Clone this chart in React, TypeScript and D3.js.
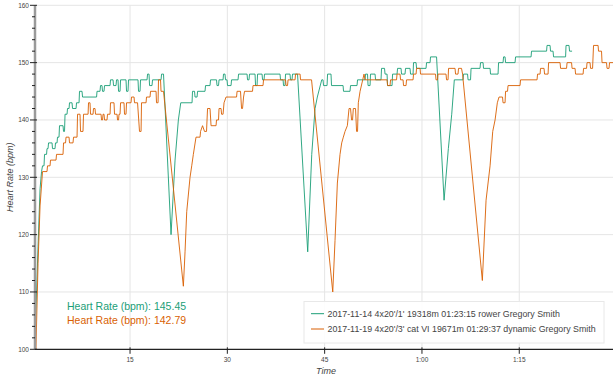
import React from "react";
import * as d3 from "d3";

const W = 613;
const H = 380;

const xTickValues = [15, 30, 45, 60, 75];
const xTickLabels = ["15", "30", "45", "1:00", "1:15"];
const yTickValues = [100, 110, 120, 130, 140, 150, 160];
const yMinorValues = d3.range(100, 161, 2).filter((v) => v % 10 !== 0);

const seriesColors = ["#1b9e77", "#d95f02"];
const legendLabels = [
  "2017-11-14 4x20'/1' 19318m 01:23:15 rower Gregory Smith",
  "2017-11-19 4x20'/3' cat VI 19671m 01:29:37 dynamic Gregory Smith",
];
const summaryLabels = ["Heart Rate (bpm): 145.45", "Heart Rate (bpm): 142.79"];

// [minutes, bpm]
const rowerHR: [number, number][] = [
  [0.39, 103], [0.82, 118], [1.13, 128], [1.36, 131], [1.51, 132], [1.74, 132], [1.82, 134], [2.13, 134],
  [2.2, 135], [2.36, 135], [2.44, 136], [2.98, 136], [3.05, 135], [3.44, 135], [3.51, 136], [3.75, 136],
  [3.82, 137], [4.05, 137], [4.13, 139], [4.67, 139], [4.75, 138], [4.9, 138], [4.98, 141], [5.29, 141],
  [5.36, 142], [5.6, 142], [5.67, 143], [6.06, 143], [6.14, 142], [6.68, 142], [6.75, 143], [7.14, 143],
  [7.21, 145], [7.6, 145], [7.68, 144], [9.84, 144], [9.91, 145], [10.37, 145], [10.45, 146], [10.68, 146],
  [10.76, 145], [10.99, 145], [11.07, 146], [11.92, 146], [11.99, 147], [12.38, 147], [12.46, 146], [12.84, 146],
  [12.92, 147], [13.15, 147], [13.23, 145], [13.46, 145], [13.54, 147], [14.38, 147], [14.46, 145], [14.69, 145],
  [14.77, 147], [16.23, 147], [16.31, 145], [16.54, 145], [16.62, 147], [17.62, 147], [17.7, 148], [17.93, 148],
  [18.01, 146], [18.39, 146], [18.47, 147], [19.78, 147], [19.86, 148], [20.16, 148],
  [21.32, 120], [21.94, 133], [22.45, 140], [22.82, 143], [24.56, 143], [24.63, 145], [24.94, 145], [25.02, 144],
  [25.33, 144], [25.41, 145], [26.56, 145], [26.64, 146], [27.33, 146], [27.41, 147], [28.33, 147], [28.41, 146],
  [28.64, 146], [28.72, 147], [29.34, 147], [29.41, 148], [29.64, 148], [29.72, 147], [29.95, 147], [30.03, 146],
  [30.57, 146], [30.65, 147], [31.65, 147], [31.73, 148], [33.04, 148], [33.11, 147], [33.34, 147], [33.42, 148],
  [34.27, 148], [34.35, 146], [34.58, 146], [34.66, 148], [35.35, 148], [35.43, 147], [35.66, 147], [35.73, 148],
  [38.12, 148], [38.2, 147], [38.59, 147], [38.66, 146], [38.89, 146], [38.97, 148], [39.66, 148], [39.74, 147],
  [39.97, 147], [40.05, 148], [40.82, 148],
  [42.39, 117], [43.01, 134], [43.52, 142], [43.87, 144], [44.55, 147], [44.75, 147], [44.83, 146], [45.37, 146],
  [45.45, 148], [45.98, 148], [46.06, 146], [47.84, 146], [47.91, 145], [48.91, 145], [48.99, 146], [49.99, 146],
  [50.07, 147], [51.23, 147], [51.3, 148], [51.61, 148], [51.69, 146], [52.0, 146], [52.07, 148], [52.77, 148],
  [52.85, 147], [53.69, 147], [53.77, 149], [54.23, 149], [54.31, 148], [54.62, 148], [54.7, 146], [55.39, 146],
  [55.47, 148], [56.16, 148], [56.24, 149], [56.78, 149], [56.85, 148], [57.39, 148], [57.47, 149], [58.16, 149],
  [58.24, 148], [58.63, 148], [58.7, 150], [59.09, 150], [59.17, 149], [60.63, 149], [60.71, 150], [61.25, 150],
  [61.32, 151], [62.25, 151],
  [63.41, 126], [64.07, 135], [64.59, 141], [64.99, 147], [66.33, 147], [66.41, 148], [67.03, 148], [67.11, 147],
  [67.49, 147], [67.57, 149], [68.95, 149], [69.03, 150], [69.42, 150], [69.49, 149], [70.5, 149], [70.57, 148],
  [71.73, 148], [71.81, 150], [72.5, 150], [72.58, 151], [72.81, 151], [72.89, 150], [74.35, 150], [74.43, 151],
  [76.82, 151], [76.89, 152], [79.21, 152], [79.28, 153], [79.75, 153], [79.82, 152], [80.21, 152], [80.29, 151],
  [82.14, 151], [82.21, 153], [82.67, 153], [82.75, 152], [83.14, 152],
];

const dynamicHR: [number, number][] = [
  [0.43, 97], [0.82, 115], [1.13, 125], [1.51, 131], [2.2, 131], [2.28, 132], [2.67, 132], [2.74, 133],
  [3.59, 133], [3.67, 134], [4.67, 134], [4.75, 136], [5.06, 136], [5.13, 137], [5.6, 137], [5.67, 136],
  [6.21, 136], [6.29, 137], [6.83, 137], [6.91, 141], [7.29, 141], [7.37, 138], [7.75, 138], [7.83, 141],
  [8.53, 141], [8.6, 143], [8.83, 143], [8.91, 141], [9.3, 141], [9.37, 142], [9.6, 142], [9.68, 141],
  [10.53, 141], [10.61, 140], [10.76, 140], [10.84, 141], [10.99, 141], [11.07, 140], [11.45, 140], [11.53, 141],
  [11.92, 141], [11.99, 143], [12.53, 143], [12.61, 141], [13.0, 141], [13.07, 140], [13.23, 140], [13.3, 141],
  [13.46, 141], [13.54, 143], [14.07, 143], [14.15, 141], [14.38, 141], [14.46, 143], [15.15, 143], [15.23, 144],
  [15.62, 144], [15.69, 143], [16.16, 143], [16.46, 138], [16.7, 138], [16.77, 143], [17.47, 143], [17.54, 144],
  [18.08, 144], [18.16, 145], [19.01, 145], [19.08, 143], [19.32, 143], [19.39, 147], [19.7, 147], [19.78, 145],
  [20.16, 145],
  [23.22, 111], [23.48, 117], [23.74, 124], [24.25, 130], [24.51, 132], [24.76, 134], [25.17, 137], [25.79, 137],
  [25.87, 138], [26.18, 139], [26.48, 138], [26.79, 138], [26.95, 142], [27.33, 142], [27.49, 139], [28.26, 139],
  [28.33, 140], [28.64, 140], [28.72, 142], [29.03, 142], [29.11, 141], [29.34, 141], [29.49, 143], [29.8, 144],
  [31.42, 144], [31.5, 145], [32.03, 145], [32.19, 142], [32.34, 142], [32.5, 144], [32.65, 145], [33.88, 145],
  [33.96, 146], [35.5, 146], [35.58, 147], [38.97, 147], [39.05, 146], [39.28, 146], [39.36, 147], [40.44, 147],
  [40.51, 148], [41.21, 148], [41.28, 147], [42.98, 147],
  [46.25, 110], [46.6, 119], [46.96, 129], [47.37, 134], [47.63, 136], [47.88, 137], [48.14, 138], [48.5, 139],
  [48.76, 142], [48.99, 142], [49.15, 140], [49.3, 140], [49.42, 142], [49.76, 142], [49.92, 138], [50.07, 138],
  [50.19, 143], [50.46, 145], [50.87, 147], [51.07, 148], [51.23, 147], [54.62, 147], [54.7, 146], [55.08, 146],
  [55.16, 147], [56.08, 147], [56.16, 148], [56.62, 148], [56.7, 147], [57.09, 147], [57.16, 146], [57.55, 146],
  [57.62, 147], [58.63, 147], [58.7, 148], [59.09, 148], [59.17, 149], [59.71, 149], [59.78, 148], [62.09, 148],
  [62.17, 147], [62.4, 147], [62.48, 148], [63.71, 148], [63.79, 147], [64.02, 147], [64.1, 149], [65.1, 149],
  [65.18, 148], [65.56, 148], [65.64, 149], [66.1, 149], [66.26, 148],
  [69.31, 112], [69.88, 126], [70.5, 132], [70.91, 138], [71.27, 140], [71.62, 143], [71.88, 144], [72.42, 144],
  [72.5, 143], [72.81, 143], [72.89, 145], [73.19, 145], [73.27, 146], [75.12, 146], [75.2, 147], [77.74, 147],
  [77.82, 148], [78.21, 148], [78.28, 149], [78.82, 149], [78.9, 148], [79.44, 148], [79.52, 150], [81.29, 150],
  [81.37, 149], [82.29, 149], [82.37, 150], [83.06, 150], [83.14, 149], [83.6, 149], [83.68, 148], [84.84, 148],
  [84.91, 149], [85.37, 149], [85.45, 150], [85.91, 150], [85.99, 149], [86.3, 149], [86.45, 153], [87.15, 153],
  [87.22, 152], [87.68, 152], [87.76, 150], [88.45, 150], [88.53, 149], [88.84, 149], [88.92, 150], [89.62, 150],
];

const allSeries = [rowerHR, dynamicHR];

export default function App() {
  const left = 35;
  const right = 613;
  const top = 5.3;
  const bottom = 349.3;
  const x = d3.scaleLinear().domain([0.35, 89.45]).range([left, right]);
  const y = d3.scaleLinear().domain([100, 160]).range([bottom, top]);
  const line = d3
    .line<[number, number]>()
    .x((d) => x(d[0]))
    .y((d) => y(d[1]));

  const tickFont = "Helvetica, 'Liberation Sans', Arial, sans-serif";

  return (
    <svg
      width={W}
      height={H}
      style={{ position: "absolute", left: 0, top: 0, background: "#fff" }}
      fontFamily={tickFont}
    >
      <defs>
        <clipPath id="plotclip">
          <rect x={left} y={0} width={right - left} height={bottom} />
        </clipPath>
      </defs>
      {/* grid */}
      {yTickValues.slice(1).map((v) => (
        <line key={"gy" + v} x1={left} x2={right} y1={y(v)} y2={y(v)} stroke="#e5e5e5" strokeWidth={1} />
      ))}
      {xTickValues.map((v) => (
        <line key={"gx" + v} x1={x(v)} x2={x(v)} y1={top} y2={bottom} stroke="#e5e5e5" strokeWidth={1} />
      ))}
      {/* series */}
      <g clipPath="url(#plotclip)">
        {allSeries.map((s, i) => (
          <path
            key={"s" + i}
            d={line(s) || ""}
            fill="none"
            stroke={seriesColors[i]}
            strokeWidth={1}
            strokeOpacity={0.9}
            strokeLinejoin="round"
          />
        ))}
      </g>
      {/* y axis */}
      <line x1={left} x2={left} y1={top} y2={bottom} stroke="#9a9a9a" strokeWidth={2.5} />
      {yTickValues.map((v) => (
        <g key={"ty" + v}>
          <line x1={left - 5} x2={left + 2} y1={y(v)} y2={y(v)} stroke="#222" strokeWidth={1} />
          <text x={left - 6} y={y(v)} dy="0.34em" textAnchor="end" fontSize={6.5} fill="#444">
            {v}
          </text>
        </g>
      ))}
      {yMinorValues.map((v) => (
        <line key={"my" + v} x1={left - 3} x2={left} y1={y(v)} y2={y(v)} stroke="#222" strokeWidth={1} />
      ))}
      <text
        transform={`translate(10, ${(top + bottom) / 2}) rotate(-90)`}
        textAnchor="middle"
        dy="0.34em"
        fontSize={9}
        fontStyle="italic"
        fill="#444"
      >
        Heart Rate (bpm)
      </text>
      {/* x axis */}
      <line x1={left} x2={right} y1={bottom} y2={bottom} stroke="#222" strokeWidth={1.2} />
      {xTickValues.map((v, i) => (
        <g key={"tx" + v}>
          <line x1={x(v)} x2={x(v)} y1={bottom - 2} y2={bottom + 4.5} stroke="#222" strokeWidth={1} />
          <text x={x(v)} y={bottom + 12.8} textAnchor="middle" fontSize={6.5} fill="#444">
            {xTickLabels[i]}
          </text>
        </g>
      ))}
      <text x={(left + right) / 2 + 2} y={374} textAnchor="middle" fontSize={9} fontStyle="italic" fill="#444">
        Time
      </text>
      {/* summary labels */}
      {summaryLabels.map((t, i) => (
        <text key={"sum" + i} x={67} y={306 + i * 14} dy="0.35em" fontSize={10.5} fill={seriesColors[i]}>
          {t}
        </text>
      ))}
      {/* legend */}
      <rect x={304} y={301.5} width={300} height={41.5} fill="#fff" fillOpacity={0.9} stroke="#e8e8e8" strokeWidth={1} />
      {legendLabels.map((t, i) => (
        <g key={"lg" + i}>
          <line x1={311} x2={324} y1={313.7 + i * 15.3} y2={313.7 + i * 15.3} stroke={seriesColors[i]} strokeWidth={1} />
          <text x={327.5} y={313.7 + i * 15.3} dy="0.35em" fontSize={8.85} fill="#444">
            {t}
          </text>
        </g>
      ))}
    </svg>
  );
}
